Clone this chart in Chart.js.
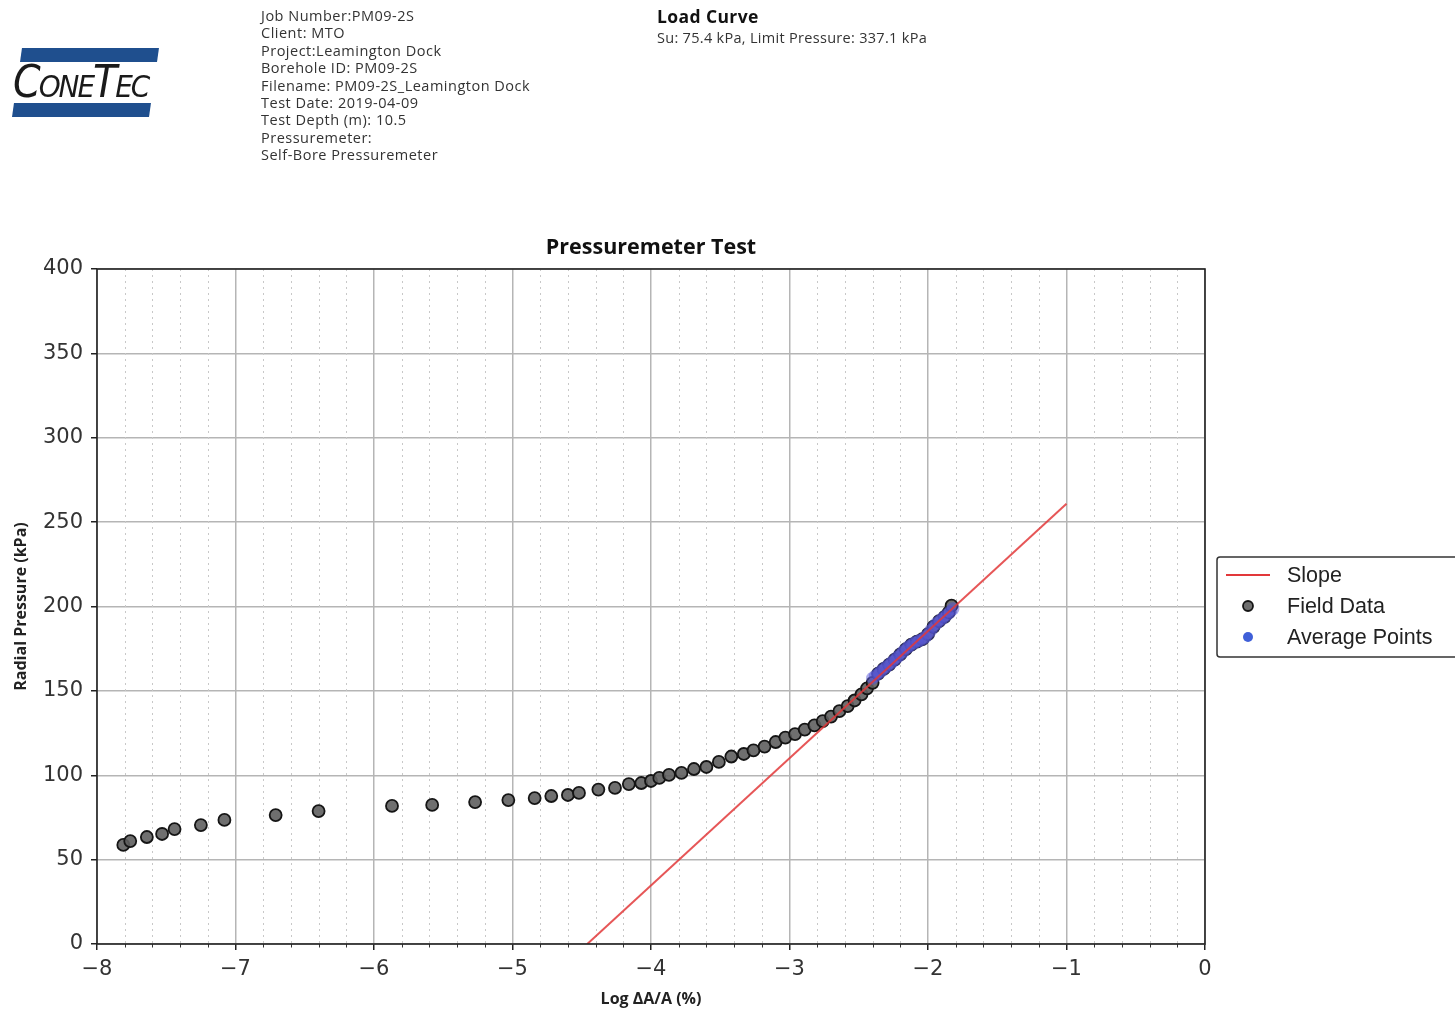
<!DOCTYPE html>
<html>
<head>
<meta charset="utf-8">
<script src="https://cdn.jsdelivr.net/npm/chart.js@4"></script>
<style>
  html, body { margin: 0; padding: 0; background: #fff; }
  body { width: 1455px; height: 1013px; position: relative; overflow: hidden; font-family: "Open Sans", sans-serif; }
  #chart { position: absolute; left: 0; top: 0; }
  .info { position: absolute; color: #333; font-size: 14.5px; line-height: 17.4px; letter-spacing: 0.5px; }
  .logo { position: absolute; left: 10px; top: 46px; width: 150px; height: 72px; }
  .bar { position: absolute; height: 14px; background: #1f4f8e; transform: skewX(-8deg); }
  .logo-text { position: absolute; left: 3px; top: 14px; font-family: "DejaVu Sans Condensed", "DejaVu Sans", sans-serif; font-style: italic; font-size: 44px; letter-spacing: -2px; color: #1a1a1a; font-variant: small-caps; line-height: 44px; }
</style>
</head>
<body>
<canvas id="chart" width="1455" height="1013"></canvas>

<div class="logo">
  <div class="bar" style="left:11px; top:2px; width:137px;"></div>
  <div class="bar" style="left:3px; top:57px; width:137px;"></div>
  <div class="logo-text">ConeTec</div>
</div>

<div class="info" style="left:261px; top:7px;">
  Job Number:PM09-2S<br>
  Client: MTO<br>
  Project:Leamington Dock<br>
  Borehole ID: PM09-2S<br>
  Filename: PM09-2S_Leamington Dock<br>
  Test Date: 2019-04-09<br>
  Test Depth (m): 10.5<br>
  Pressuremeter:<br>
  Self-Bore Pressuremeter
</div>

<div class="info" style="left:657px; top:6px; line-height:20px; letter-spacing:0.3px;">
  <span style="font-weight:bold; font-size:17.5px; color:#111; letter-spacing:0.4px;">Load Curve</span><br>
  Su: 75.4 kPa, Limit Pressure: 337.1 kPa
</div>

<script>
// field readings: log strain (%) and radial pressure (kPa)
const fieldX = [-7.81, -7.76, -7.64, -7.53, -7.44, -7.25, -7.08, -6.71, -6.40, -5.87,
  -5.58, -5.27, -5.03, -4.84, -4.72, -4.60, -4.52, -4.38, -4.26, -4.16,
  -4.07, -4.00, -3.94, -3.87, -3.78, -3.69, -3.60, -3.51, -3.42, -3.33,
  -3.26, -3.18, -3.10, -3.03, -2.96, -2.89, -2.82, -2.76, -2.70, -2.64,
  -2.58, -2.53, -2.48, -2.44, -2.40, -2.36, -2.32, -2.28, -2.24, -2.20,
  -2.16, -2.12, -2.08, -2.04, -2.00, -1.96, -1.92, -1.88, -1.85, -1.83];
const fieldP = [58.7, 61.0, 63.4, 65.2, 68.1, 70.5, 73.5, 76.4, 78.8, 81.8,
  82.4, 84.1, 85.3, 86.5, 87.7, 88.3, 89.5, 91.5, 92.5, 94.8,
  95.4, 96.6, 98.4, 100.2, 101.4, 103.7, 104.9, 107.9, 111.1, 112.6,
  114.7, 117.0, 119.7, 122.3, 124.4, 127.0, 129.5, 132.1, 134.8, 138.0,
  141.0, 144.3, 147.9, 151.5, 154.8, 160.2, 163.0, 165.6, 168.5, 171.6,
  174.8, 177.4, 179.2, 180.6, 183.6, 188.0, 191.3, 193.9, 196.5, 200.5];

// averaged points used for the slope fit
const avgX = [-2.40, -2.38, -2.36, -2.34, -2.32, -2.30, -2.28, -2.26, -2.24, -2.22,
  -2.20, -2.18, -2.16, -2.14, -2.12, -2.10, -2.08, -2.06, -2.04, -2.02,
  -2.00, -1.98, -1.96, -1.94, -1.92, -1.90, -1.88, -1.86, -1.84, -1.82];
const avgP = [157.5, 158.8, 160.2, 161.6, 163.0, 164.3, 165.6, 167.0, 168.5, 170.0,
  171.6, 173.2, 174.8, 176.2, 177.4, 178.4, 179.2, 179.9, 180.6, 181.8,
  183.6, 185.8, 188.0, 189.8, 191.3, 192.6, 193.9, 195.3, 196.9, 198.6];

// fitted slope line (Su = 75.4 kPa)
const slopeX = [-4.46, -1.0];
const slopeP = [0, 260.9];

const xTicks = [-8, -7, -6, -5, -4, -3, -2, -1, 0];
const yTicks = [0, 50, 100, 150, 200, 250, 300, 350, 400];

const toPts = (xs, ys) => xs.map((x, i) => ({ x: x, y: ys[i] }));

const tickFont = { family: 'DejaVu Sans', size: 21 };
const titleFont = { family: 'Open Sans', size: 16, weight: 'bold' };

// minor grid, frame, title and legend box
const extras = {
  id: 'extras',
  beforeDatasetsDraw(chart) {
    const { ctx, chartArea: a, scales } = chart;
    ctx.save();
    ctx.strokeStyle = '#c8c8c8';
    ctx.lineWidth = 1;
    ctx.setLineDash([2, 4]);
    for (let k = 0; k <= 40; k++) {
      if (k % 5 === 0) continue;
      const px = Math.round(scales.x.getPixelForValue(-8 + k * 0.2)) + 0.5;
      ctx.beginPath();
      ctx.moveTo(px, a.top);
      ctx.lineTo(px, a.bottom);
      ctx.stroke();
    }
    ctx.setLineDash([]);
    ctx.strokeStyle = '#333';
    for (let k = 0; k <= 40; k++) {
      if (k % 5 === 0) continue;
      const px = Math.round(scales.x.getPixelForValue(-8 + k * 0.2)) + 0.5;
      ctx.beginPath();
      ctx.moveTo(px, a.bottom);
      ctx.lineTo(px, a.bottom + 3.5);
      ctx.stroke();
    }
    ctx.restore();
  },
  afterDraw(chart) {
    const { ctx, chartArea: a } = chart;
    ctx.save();
    ctx.strokeStyle = '#222';
    ctx.lineWidth = 1.6;
    ctx.strokeRect(a.left, a.top, a.right - a.left, a.bottom - a.top);

    ctx.fillStyle = '#111';
    ctx.font = 'bold 21.5px "Open Sans", sans-serif';
    ctx.textAlign = 'center';
    ctx.textBaseline = 'middle';
    ctx.fillText('Pressuremeter Test', (a.left + a.right) / 2, a.top - 21);

    // legend
    const lx = 1217, ly = 557, lw = 260, lh = 100;
    ctx.fillStyle = '#fff';
    ctx.strokeStyle = '#333';
    ctx.lineWidth = 1.5;
    ctx.beginPath();
    ctx.roundRect(lx, ly, lw, lh, 3);
    ctx.fill();
    ctx.stroke();

    const items = chart.data.datasets;
    const rows = [ly + 18, ly + 49, ly + 80];
    ctx.font = '21.5px "Liberation Sans", Arial, sans-serif';
    ctx.textAlign = 'left';
    [0, 1, 2].forEach(i => {
      const ds = items[i];
      const y = rows[i];
      if (ds.showLine) {
        ctx.strokeStyle = ds.legendColor || ds.borderColor;
        ctx.lineWidth = 2;
        ctx.beginPath();
        ctx.moveTo(lx + 9, y);
        ctx.lineTo(lx + 53, y);
        ctx.stroke();
      } else {
        ctx.beginPath();
        ctx.arc(lx + 31, y, 5, 0, Math.PI * 2);
        ctx.fillStyle = ds.legendColor || ds.backgroundColor;
        ctx.fill();
        if (ds.borderWidth) {
          ctx.lineWidth = ds.borderWidth;
          ctx.strokeStyle = ds.borderColor;
          ctx.stroke();
        }
      }
      ctx.fillStyle = '#222';
      ctx.fillText(ds.label, lx + 70, y + 1);
    });
    ctx.restore();
  }
};

new Chart(document.getElementById('chart'), {
  type: 'scatter',
  data: {
    datasets: [
      {
        label: 'Slope',
        data: toPts(slopeX, slopeP),
        showLine: true,
        borderColor: 'rgba(226,56,58,0.85)',
        legendColor: '#e2383a',
        backgroundColor: '#e2383a',
        borderWidth: 2,
        pointRadius: 0,
        order: 0
      },
      {
        label: 'Field Data',
        data: toPts(fieldX, fieldP),
        showLine: false,
        backgroundColor: 'rgba(95,95,95,0.9)',
        borderColor: '#151515',
        borderWidth: 1.8,
        pointRadius: 6,
        order: 2
      },
      {
        label: 'Average Points',
        data: toPts(avgX, avgP),
        showLine: false,
        backgroundColor: 'rgba(85,85,215,0.5)',
        legendColor: '#3f5fd8',
        borderWidth: 0,
        pointRadius: 6.5,
        order: 1
      }
    ]
  },
  options: {
    responsive: false,
    animation: false,
    layout: { padding: { top: 269, right: 250, left: 0, bottom: 0 } },
    plugins: {
      legend: { display: false },
      tooltip: { enabled: false },
      title: { display: false }
    },
    scales: {
      x: {
        type: 'linear',
        min: -8,
        max: 0,
        afterBuildTicks: s => { s.ticks = xTicks.map(v => ({ value: v })); },
        afterFit: s => { s.height = 69; },
        ticks: {
          font: tickFont,
          color: '#333',
          padding: 7,
          callback: v => String(v).replace('-', '\u2212')
        },
        grid: { color: '#b5b5b5', lineWidth: 1.5, tickColor: '#222', tickLength: 6, tickWidth: 1.5 },
        border: { display: false },
        title: { display: true, text: 'Log \u0394A/A (%)', color: '#222', font: titleFont, padding: { top: 4, bottom: 4 } }
      },
      y: {
        type: 'linear',
        min: 0,
        max: 400,
        afterBuildTicks: s => { s.ticks = yTicks.map(v => ({ value: v })); },
        afterFit: s => { s.width = 97; },
        ticks: { font: tickFont, color: '#333', padding: 8 },
        grid: { color: '#b5b5b5', lineWidth: 1.5, tickColor: '#222', tickLength: 6, tickWidth: 1.5 },
        border: { display: false },
        title: { display: true, text: 'Radial Pressure (kPa)', color: '#222', font: titleFont, padding: { top: 12, bottom: 0 } }
      }
    }
  },
  plugins: [extras]
});
</script>
</body>
</html>
